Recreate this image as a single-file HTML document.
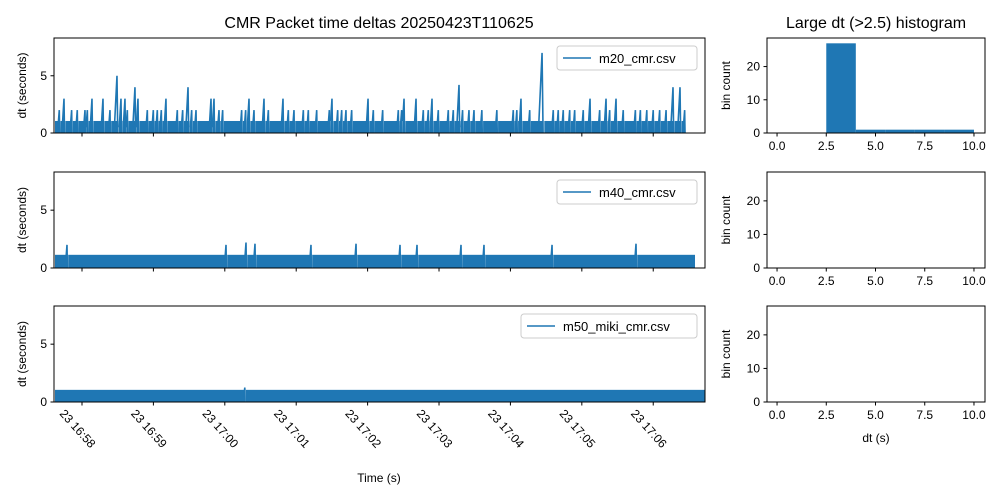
<!DOCTYPE html>
<html><head><meta charset="utf-8"><style>
body{margin:0;background:#fff}
svg{font-family:"Liberation Sans","DejaVu Sans",sans-serif;display:block}
</style></head><body>
<svg id="chart" width="1000" height="500" viewBox="0 0 1000 500" xmlns="http://www.w3.org/2000/svg"></svg>
<script>
// ---- data (time in minutes after 23 16:58) ----
const tickLabels = ["23 16:58","23 16:59","23 17:00","23 17:01","23 17:02","23 17:03","23 17:04","23 17:05","23 17:06"];
const seriesNames = ["m20_cmr.csv","m40_cmr.csv","m50_miki_cmr.csv"];
const seriesStart = [-0.378,-0.378,-0.378];
const seriesEnd = [8.445,8.585,8.725];
const baseLevel = [1.05,1.14,1.05];
const bigSpikeTimes0 = [-0.252,0.14,0.294,0.49,0.546,0.602,0.742,0.784,1.176,1.485,1.807,1.849,2.339,2.549,2.815,3.501,4.006,4.51,4.678,4.902,5.28,6.148,6.443,7.115,7.339,7.479,8.277,8.375];
const bigSpikeVals0 = [3,3,3,5,3,3,4,3,3,4,3,3,3,3,3,3,3,3,3,3,4.2,3,7,3,3,3,4,4];
const smallSpikeTimes0 = [-0.318,-0.145,-0.066,0.042,0.075,0.392,0.635,0.915,0.999,1.055,1.111,1.335,1.41,1.536,1.597,1.919,1.97,2.236,2.292,2.409,2.61,2.89,2.969,3.1,3.17,3.287,3.464,3.581,3.637,3.697,3.777,4.08,4.211,4.43,4.477,4.78,4.85,4.99,5.13,5.2,5.33,5.42,5.49,5.6,5.81,6.04,6.09,6.27,6.6,6.67,6.74,6.83,6.9,7.02,7.25,7.39,7.58,7.75,7.82,7.91,8.0,8.09,8.18,8.44];
const spikeTimes1 = [-0.21,2.017,2.297,2.423,3.207,3.838,4.454,4.692,5.308,5.63,6.583,7.759];
const spikeVals1 = [2,2,2.2,2.1,2,2.1,2,2,2,2,2,2.1];
const spikeTimes2 = [2.28];
const spikeVals2 = [1.25];
const yTicks = [0,5];
const histEdges = [2.5,4,5.5,7,8.5,10];
const histCounts0 = [27,1,1,1,1];
const histCounts1 = [0,0,0,0,0];
const histCounts2 = [0,0,0,0,0];
const histXTicks = [0,2.5,5,7.5,10];
const histYTicks = [0,10,20];
</script>
<script>
const NS="http://www.w3.org/2000/svg";
const svg=document.getElementById('chart');
function mk(tag,attrs,parent,text){const e=document.createElementNS(NS,tag);for(const k in attrs)e.setAttribute(k,attrs[k]);if(text!==undefined)e.textContent=text;(parent||svg).appendChild(e);return e;}
const C="#1f77b4";
const rows=[{top:38,bot:133},{top:172,bot:268},{top:306,bot:402}];
const L={x0:54,x1:705,tmin:-0.392,tmax:8.725};
const H={x0:767,x1:985,vmin:-0.51,vmax:10.56};
const xT=t=>L.x0+(t-L.tmin)/(L.tmax-L.tmin)*(L.x1-L.x0);
const xH=v=>H.x0+(v-H.vmin)/(H.vmax-H.vmin)*(H.x1-H.x0);
const yL=(r,v)=>r.bot-v/8.3*(r.bot-r.top);
const yHc=(r,v)=>r.bot-v/28.6*(r.bot-r.top);
const spikeSets=[
 [[bigSpikeTimes0,bigSpikeVals0],[smallSpikeTimes0,smallSpikeTimes0.map(()=>2)]],
 [[spikeTimes1,spikeVals1]],
 [[spikeTimes2,spikeVals2]]];
const histSets=[histCounts0,histCounts1,histCounts2];
const legW=[140,140,176];

rows.forEach((r,i)=>{
  const g=mk('g',{},svg);
  
  
  const band=mk('rect',{x:xT(seriesStart[i]),y:yL(r,baseLevel[i]),width:xT(seriesEnd[i])-xT(seriesStart[i]),height:yL(r,0)-yL(r,baseLevel[i]),fill:C},g);
  
  
  spikeSets[i].forEach(([ts,vs])=>{
    ts.forEach((t,k)=>{
      const v=vs[k];const w=0.006+0.006*v;
      const gap=mk('line',{x1:xT(t+w*0.5),x2:xT(t+w*0.5),y1:yL(r,0),y2:yL(r,baseLevel[i]),stroke:'#fff','stroke-width':1.2,'stroke-opacity':0.85},g);
      
      
      const p=mk('polyline',{points:`${xT(t-w)},${yL(r,0.5)} ${xT(t)},${yL(r,v)} ${xT(t+w*0.3)},${yL(r,0)}`,fill:'none',stroke:C,'stroke-width':1.6},g);
      
      
    });
  });
  mk('rect',{x:L.x0,y:r.top,width:L.x1-L.x0,height:r.bot-r.top,fill:'none',stroke:'#000','stroke-width':1},g);
  yTicks.forEach(v=>{
    const y=yL(r,v);
    mk('line',{x1:L.x0-3.5,x2:L.x0,y1:y,y2:y,stroke:'#000'},g);
    const t=mk('text',{x:L.x0-7,y:y+4,'text-anchor':'end','font-size':12},g,String(v));
    
    
  });
  tickLabels.forEach((lab,k)=>{
    const x=xT(k);
    mk('line',{x1:x,x2:x,y1:r.bot,y2:r.bot+3.5,stroke:'#000'},g);
    if(i===2){
      const t=mk('text',{x:0,y:0,'font-size':12,transform:`translate(${x-23},${r.bot+12}) rotate(48)`},g,lab);
      
      
    }
  });
  const yl=mk('text',{x:0,y:0,'font-size':12,'text-anchor':'middle',transform:`translate(26,${(r.top+r.bot)/2}) rotate(-90)`},g,'dt (seconds)');
  
  
  const lx=697-legW[i], ly=r.top+8;
  const lg=mk('g',{},g);
  
  
  mk('rect',{x:lx,y:ly,width:legW[i],height:24,rx:3,fill:'#fff','fill-opacity':0.8,stroke:'#ccc'},lg);
  mk('line',{x1:lx+6,x2:lx+34,y1:ly+12,y2:ly+12,stroke:C,'stroke-width':1.5},lg);
  mk('text',{x:lx+42,y:ly+17,'font-size':13},lg,seriesNames[i]);

  const hg=mk('g',{},svg);
  
  
  histSets[i].forEach((c,k)=>{
    if(c<=0)return;
    const b=mk('rect',{x:xH(histEdges[k]),y:yHc(r,c),width:xH(histEdges[k+1])-xH(histEdges[k]),height:yHc(r,0)-yHc(r,c),fill:C},hg);
    
    
  });
  mk('rect',{x:H.x0,y:r.top,width:H.x1-H.x0,height:r.bot-r.top,fill:'none',stroke:'#000'},hg);
  histYTicks.forEach(v=>{
    const y=yHc(r,v);
    mk('line',{x1:H.x0-3.5,x2:H.x0,y1:y,y2:y,stroke:'#000'},hg);
    mk('text',{x:H.x0-7,y:y+4,'text-anchor':'end','font-size':12},hg,String(v));
  });
  histXTicks.forEach(v=>{
    const x=xH(v);
    mk('line',{x1:x,x2:x,y1:r.bot,y2:r.bot+3.5,stroke:'#000'},hg);
    mk('text',{x:x,y:r.bot+17,'text-anchor':'middle','font-size':12},hg,v.toFixed(1));
  });
  const hy=mk('text',{x:0,y:0,'font-size':12,'text-anchor':'middle',transform:`translate(730,${(r.top+r.bot)/2}) rotate(-90)`},hg,'bin count');
  
  
});
const t1=mk('text',{x:379,y:28,'text-anchor':'middle','font-size':16},svg,'CMR Packet time deltas 20250423T110625');


const t2=mk('text',{x:876,y:28,'text-anchor':'middle','font-size':16},svg,'Large dt (>2.5) histogram');


const xa=mk('text',{x:379,y:482,'text-anchor':'middle','font-size':12},svg,'Time (s)');


const xh=mk('text',{x:876,y:442,'text-anchor':'middle','font-size':12},svg,'dt (s)');


</script>
</body></html>
